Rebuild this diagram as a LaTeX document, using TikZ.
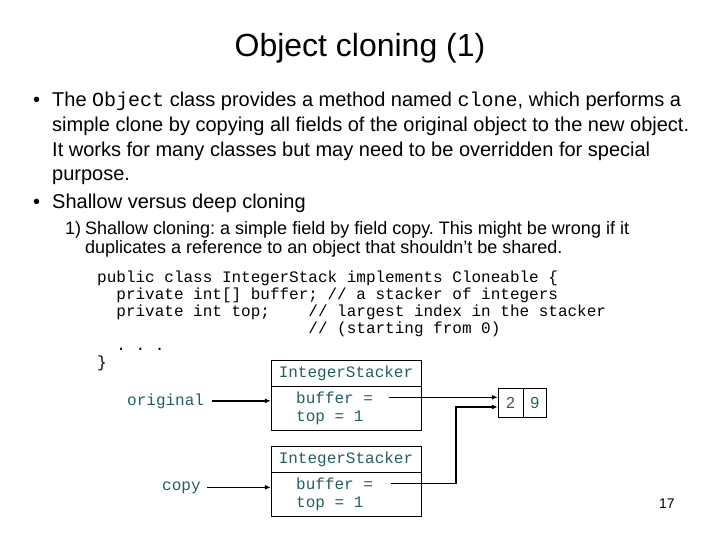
\documentclass[tikz,border=0pt]{standalone}
\usepackage{fontspec}
\setmainfont{Liberation Sans}
\setmonofont{Liberation Mono}
\usetikzlibrary{arrows.meta,calc,positioning}
\definecolor{codeteal}{RGB}{35,95,95}
\frenchspacing

\begin{document}
\begin{tikzpicture}[
  x=1pt, y=-1pt, >={Latex[length=6pt,width=5pt]},
  txt/.style={anchor=base west, inner sep=0pt},
  big/.style={txt, font=\fontsize{20}{24}\selectfont},
  small/.style={txt, font=\fontsize{18}{22}\selectfont},
  code/.style={txt, font=\fontsize{16}{17}\ttfamily},
  tcode/.style={code, text=codeteal},
  hdr/.style={draw, minimum width=150pt, minimum height=26pt, inner sep=0pt,
    font=\fontsize{16}{17}\ttfamily, text=codeteal},
  body/.style={draw, minimum width=150pt, minimum height=44pt, anchor=north},
  cell/.style={draw, minimum height=29pt, inner sep=0pt,
    font=\fontsize{16}{17}\selectfont, text=codeteal},
  ref/.style={->, line width=1.3pt},
]
  \useasboundingbox (0,0) rectangle (720,540);

  % title
  \node[font=\fontsize{32}{38}\selectfont] (title) at (360,48) {Object cloning (1)};

  % bullets
  \node[big] (dotA) at (33,107) {\textbullet};
  \node[big] (lnA1) at (52,107) {The \texttt{Object} class provides a method named \texttt{clone}, which performs a};
  \node[big] (lnA2) at (52,132) {simple clone by copying all fields of the original object to the new object.};
  \node[big] (lnA3) at (52,157) {It works for many classes but may need to be overridden for special};
  \node[big] (lnA4) at (52,181) {purpose.};
  \node[big] (dotB) at (33,209) {\textbullet};
  \node[big] (lnB1) at (52,209) {Shallow versus deep cloning};
  \node[small] (numC) at (65,234) {1)};
  \node[small] (lnC1) at (85,234) {Shallow cloning: a simple field by field copy. This might be wrong if it};
  \node[small] (lnC2) at (85,254) {duplicates a reference to an object that shouldn't be shared.};

  % code listing
  \node[code] (c1) at (97,282) {public class IntegerStack implements Cloneable \{};
  \node[code] (c2) at (116.2,299) {private int[] buffer; // a stacker of integers};
  \node[code] (c3) at (116.2,316) {private int top;};
  \node[code] (c3b) at (308.2,316) {// largest index in the stacker};
  \node[code] (c4) at (308.2,333) {// (starting from 0)};
  \node[code] (c5) at (116.2,350) {. . .};
  \node[code] (c6) at (97,367) {\}};

  % the two objects
  \node[hdr] (hdrA) at (346,373) {IntegerStacker};
  \node[body] (bodyA) at (hdrA.south) {};
  \node[tcode] (bufA) at (296,403) {buffer =};
  \node[tcode] (topA) at (296,421) {top = 1};

  \node[hdr] (hdrB) at (346,459) {IntegerStacker};
  \node[body] (bodyB) at (hdrB.south) {};
  \node[tcode] (bufB) at (296,489) {buffer =};
  \node[tcode] (topB) at (296,507) {top = 1};

  \node[tcode] (orig) at (127,405) {original};
  \node[tcode] (copy) at (162,490) {copy};

  % shared array
  \node[cell, minimum width=25pt] (arrL) at (510.5,402.5) {2};
  \node[cell, minimum width=23pt, right=0pt of arrL] (arrR) {9};

  \draw[ref] ([xshift=8pt]orig.east) -- (bodyA.west |- orig.east);
  \draw[ref] ([xshift=6pt]copy.east) -- (bodyB.west |- copy.east);
  \draw[ref] ([xshift=16pt]bufA.east) -- (arrL.west |- bufA.east);
  \coordinate (kink) at (456,407);
  \draw[ref] ([xshift=18pt]bufB.east) -| (kink) -- (arrL.west |- kink);

  \node[txt, font=\fontsize{14}{16}\selectfont] (pnum) at (659,508) {17};
\end{tikzpicture}
\end{document}
